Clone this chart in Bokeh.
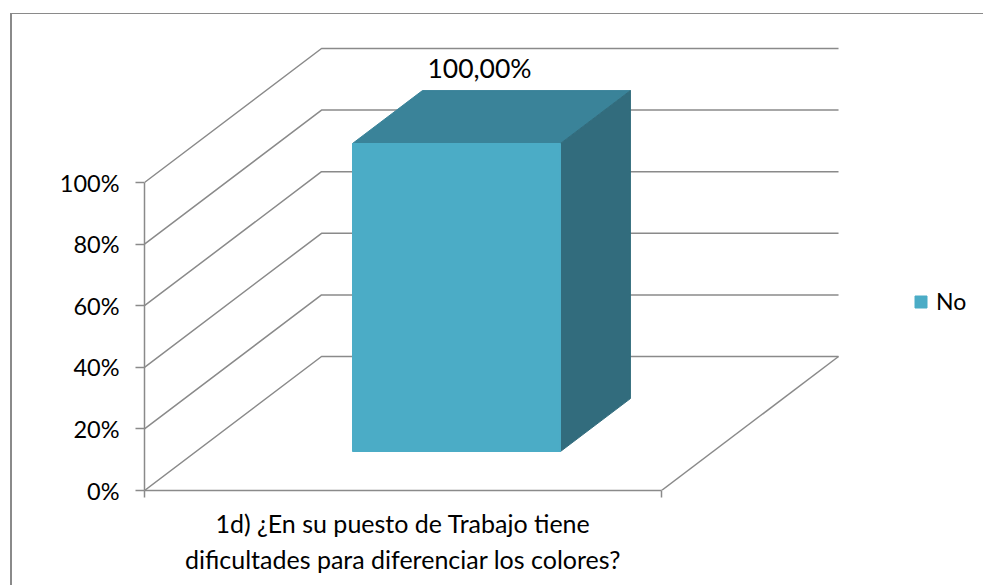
from bokeh.plotting import figure
from bokeh.models import Range1d, FixedTicker, NumeralTickFormatter, Legend, LegendItem
from bokeh.core.properties import value
from bokeh.embed import file_html
from bokeh.resources import INLINE

# --- data ---
category = "1d) ¿En su puesto de Trabajo tiene\ndificultades para diferenciar los colores?"
series_name = "No"
series_value = 1.0
value_label = "100,00%"
y_ticks = [0, 0.2, 0.4, 0.6, 0.8, 1.0]

# --- styling / projection ---
FONT = "Lato"
GREY = "#8a8a8a"
FRONT, TOP, SIDE = "#4BACC6", "#3A8399", "#326C7D"
DX, DY = 0.3424, 0.435      # oblique offset of the back wall, in axis units
BAR_X0, BAR_W = 0.3027, 0.4023
BAR_D0, BAR_D = 0.291, 0.395


def proj(x, v, d):
    return x + d * DX, v + d * DY


p = figure(width=973, height=572, output_backend="svg", toolbar_location=None,
           x_range=Range1d(0, 841 / 517), y_range=Range1d(0, 476 / 308),
           min_border_left=132, min_border_bottom=96, min_border_top=0, min_border_right=0,
           margin=(13, 0, 0, 10))
p.styles = {"border-top": "1px solid #8a8a8a", "border-left": "2px solid #8a8a8a"}
p.outline_line_color = None
p.grid.visible = False

# axes
p.yaxis.bounds = (0, 1)
p.yaxis.ticker = FixedTicker(ticks=y_ticks)
p.yaxis.formatter = NumeralTickFormatter(format="0%")
p.yaxis.major_tick_in = 0
p.yaxis.major_tick_out = 9
p.yaxis.major_label_standoff = 16
p.yaxis.minor_tick_line_color = None
p.xaxis.bounds = (0, 1)
p.xaxis.ticker = FixedTicker(ticks=[0.5], minor_ticks=[0, 1])
p.xaxis.major_label_overrides = {0.5: category}
p.xaxis.major_tick_line_color = None
p.xaxis.major_tick_out = 0
p.xaxis.major_tick_in = 0
p.xaxis.minor_tick_in = 0
p.xaxis.minor_tick_out = 7
p.xaxis.major_label_standoff = 10
for ax in (p.xaxis, p.yaxis):
    ax.axis_line_color = GREY
    ax.axis_line_width = 1.5
    ax.major_label_text_font = FONT
    ax.major_label_text_color = "#000000"
p.yaxis.major_label_text_font_size = "23.5px"
p.xaxis.major_label_text_font_size = "25px"
p.yaxis.major_tick_line_color = GREY
p.yaxis.major_tick_line_width = 1.5
p.xaxis.minor_tick_line_color = GREY
p.xaxis.minor_tick_line_width = 1.5

# walls: one gridline per tick, left wall + back wall
for v in y_ticks:
    bx, by = proj(0, v, 1)
    ex, ey = proj(1, v, 1)
    p.line([0, bx, ex], [v, by, ey], line_color=GREY, line_width=1.5)
# floor right edge
fx, fy = proj(1, 0, 1)
p.line([1, fx], [0, fy], line_color=GREY, line_width=1.5)

# 3D bar
x0, x1 = BAR_X0, BAR_X0 + BAR_W
d0, d1 = BAR_D0, BAR_D0 + BAR_D
corners = [proj(x0, series_value, d0), proj(x1, series_value, d0),
           proj(x1, series_value, d1), proj(x0, series_value, d1)]
p.patch([c[0] for c in corners], [c[1] for c in corners], fill_color=TOP, line_color=TOP)
corners = [proj(x1, 0, d0), proj(x1, series_value, d0),
           proj(x1, series_value, d1), proj(x1, 0, d1)]
p.patch([c[0] for c in corners], [c[1] for c in corners], fill_color=SIDE, line_color=SIDE)
fl, fb = proj(x0, 0, d0)
fr, ft = proj(x1, series_value, d0)
front = p.quad(left=[fl], right=[fr], bottom=[fb], top=[ft], fill_color=FRONT, line_color=FRONT)

# value label
lx, ly = proj(x0 + BAR_W / 2, series_value, d0)
p.text([lx], [ly], text=[value_label], text_font=value(FONT), text_font_size="26.5px",
       text_color="#000000", text_align="center", text_baseline="bottom",
       x_offset=23, y_offset=-60)

legend = Legend(items=[LegendItem(label=series_name, renderers=[front])],
                location=(769, 175), orientation="vertical",
                glyph_width=15, glyph_height=15, label_standoff=8,
                padding=0, margin=0, spacing=0,
                border_line_color=None, background_fill_alpha=0,
                label_text_font=FONT, label_text_font_size="23px", label_text_color="#000000")
p.add_layout(legend, "center")

open("out.html", "w").write(file_html(p, INLINE))
